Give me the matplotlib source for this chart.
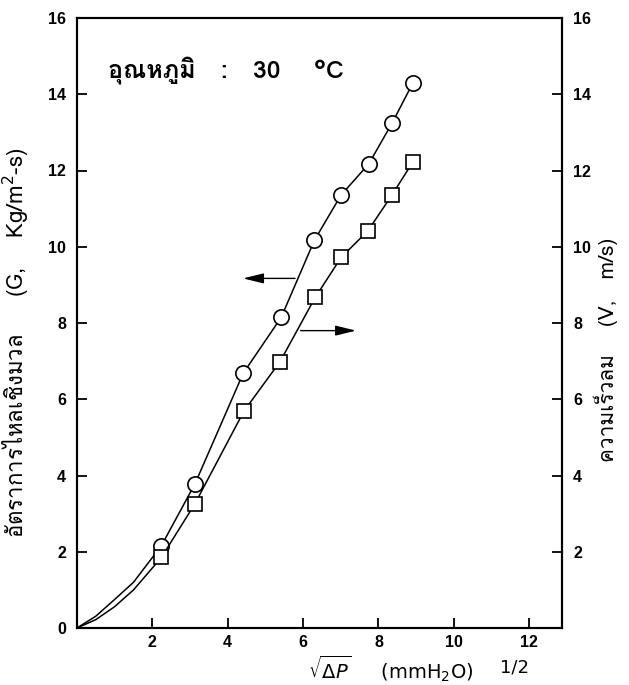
import matplotlib
matplotlib.use("Agg")
import matplotlib.pyplot as plt
from matplotlib import font_manager
from matplotlib.ft2font import FT2Font

# values
sqrt_dp_G = [2.24, 3.13, 4.41, 5.42, 6.30, 7.01, 7.74, 8.36, 8.91]
G = [2.16, 3.78, 6.68, 8.15, 10.17, 11.36, 12.17, 13.24, 14.29]
sqrt_dp_V = [2.24, 3.13, 4.43, 5.39, 6.32, 7.01, 7.72, 8.36, 8.91]
V = [1.85, 3.26, 5.69, 6.99, 8.67, 9.72, 10.42, 11.36, 12.22]

# lower part of the drawn curves (origin up to first point)
curve_x_low = [0.0, 0.5, 1.0, 1.5]
curve_G_low = [0.0, 0.31, 0.75, 1.20]
curve_V_low = [0.0, 0.22, 0.56, 1.00]

x_ticks = [2, 4, 6, 8, 10, 12]
yl_ticks = [0, 2, 4, 6, 8, 10, 12, 14, 16]
yr_ticks = [2, 4, 6, 8, 10, 12, 14, 16]


def font_with(ch):
    for f in font_manager.fontManager.ttflist:
        try:
            if ord(ch) in FT2Font(f.fname).get_charmap():
                return f.name
        except Exception:
            pass
    return None


thai = font_with("อ")
fams = [thai, "DejaVu Sans"] if thai else ["DejaVu Sans"]

fig = plt.figure(figsize=(6.29, 6.85), dpi=100)
ax = fig.add_axes([77 / 629, 57 / 685, 485 / 629, 610 / 685])
ax2 = ax.twinx()

ax.plot(curve_x_low + sqrt_dp_G, curve_G_low + G, color="k", lw=1.1, zorder=2)
ax.plot(sqrt_dp_G, G, ls="none", marker="o", ms=11, mfc="white", mec="k", mew=1.2, zorder=3)
ax2.plot(curve_x_low + sqrt_dp_V, curve_V_low + V, color="k", lw=1.1, zorder=2)
ax2.plot(sqrt_dp_V, V, ls="none", marker="s", ms=10.5, mfc="white", mec="k", mew=1.2, zorder=3)

ax.set_xlim(0, 12.87)
ax.set_ylim(0, 16)
ax2.set_ylim(0, 16)

ax.set_xticks(x_ticks)
ax.set_yticks(yl_ticks)
ax2.set_yticks(yr_ticks)
for a in (ax, ax2):
    a.tick_params(direction="in", length=7, width=1.3, labelsize=11.5, pad=8)
    a.tick_params(axis="x", pad=5)
    for lab in a.get_xticklabels() + a.get_yticklabels():
        lab.set_fontweight("bold")
        lab.set_family(["Liberation Sans", "DejaVu Sans"])
    for s in a.spines.values():
        s.set_linewidth(1.5)

# arrows pointing to the axis each curve belongs to
arrow = dict(arrowstyle="-|>,head_length=0.9,head_width=0.22", color="k", lw=1.0, mutation_scale=14)
ax.annotate("", xy=(4.33, 9.17), xytext=(5.86, 9.17), arrowprops=arrow)
ax.annotate("", xy=(7.48, 7.80), xytext=(5.86, 7.80), arrowprops=arrow)

ax.text(0.82, 14.45, "อุณหภูมิ   :   30    °C", fontsize=18, fontweight="bold", family=fams)

ax.set_ylabel("อัตราการไหลเชิงมวล     (G,    Kg/m$^{2}$-s)", fontsize=16, family=fams, va="center")
ax.yaxis.set_label_coords(-0.128, 0.467)
ax2.set_ylabel("ความเร็วลม    (V,   m/s)", fontsize=15, family=fams, rotation=90, va="center")
ax2.yaxis.set_label_coords(1.09, 0.456)

fig.text(308 / 629, 1 - 679 / 685, r"$\sqrt{\Delta P}$     (mmH$_2$O)", fontsize=14)
fig.text(500 / 629, 1 - 673 / 685, "1/2", fontsize=13)

fig.savefig("out.png", dpi=100)
